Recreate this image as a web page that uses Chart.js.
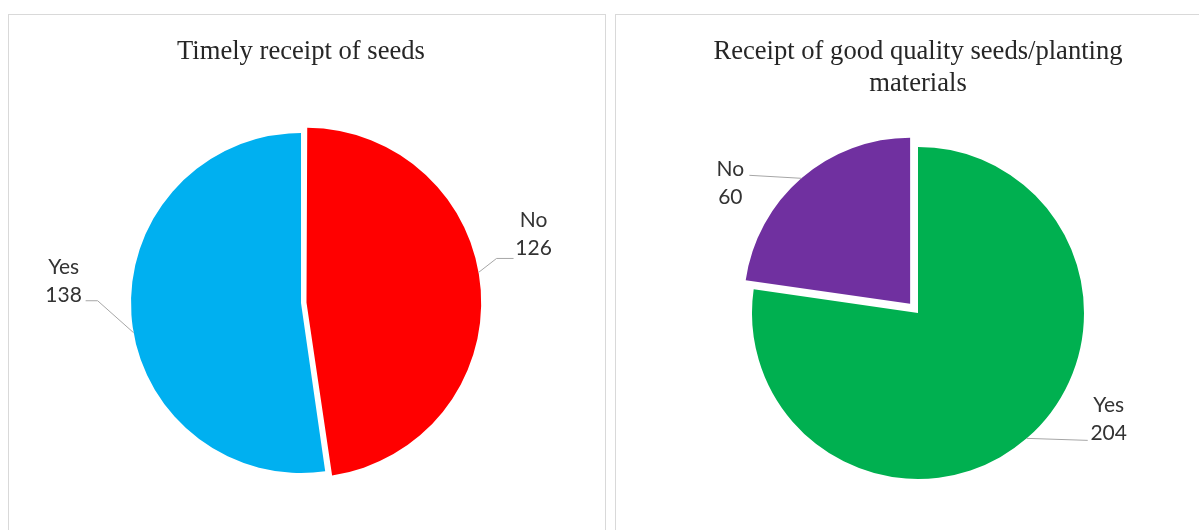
<!DOCTYPE html>
<html>
<head>
<meta charset="utf-8">
<script src="https://cdn.jsdelivr.net/npm/chart.js@4/dist/chart.umd.min.js"></script>
<style>
  html, body { margin: 0; padding: 0; background: #ffffff; }
  body { width: 1199px; height: 530px; overflow: hidden; position: relative; }
  .panel { position: absolute; border: 1px solid #d9d9d9; background: #ffffff; overflow: hidden; }
  #panelTiming { left: 8px; top: 14px; width: 596px; height: 560px; }
  #panelQuality { left: 615px; top: 14px; width: 600px; height: 560px; }
  canvas { position: absolute; left: 0; top: 0; }
</style>
</head>
<body>
<div class="panel" id="panelTiming"><canvas id="timingChart" width="596" height="523"></canvas></div>
<div class="panel" id="panelQuality"><canvas id="qualityChart" width="584" height="511"></canvas></div>
<script>
// Survey responses: timely receipt of seeds
const timingTitle = 'Timely receipt of seeds';
const timingLabels = ['No', 'Yes'];
const timingCounts = [126, 138];
const timingColors = ['#FF0000', '#00B0F0'];

// Survey responses: good quality seeds / planting materials
const qualityTitle = ['Receipt of good quality seeds/planting', 'materials'];
const qualityLabels = ['Yes', 'No'];
const qualityCounts = [204, 60];
const qualityColors = ['#00B050', '#7030A0'];

// Draws "category / value" labels outside each slice with a grey leader line.
const sliceLabels = {
  id: 'sliceLabels',
  afterDatasetsDraw(chart, args, opts) {
    const ctx = chart.ctx;
    const meta = chart.getDatasetMeta(0);
    const ds = chart.data.datasets[0];
    ctx.save();
    meta.data.forEach((arc, i) => {
      const p = arc.getProps(['x', 'y', 'startAngle', 'endAngle', 'outerRadius', 'circumference'], true);
      const place = opts.place[i];
      const mid = (p.startAngle + p.endAngle) / 2;
      // same shift ArcElement applies for an exploded slice
      const off = (arc.options.offset || 0) / 4;
      const fix = 1 - Math.sin(Math.min(Math.PI, p.circumference || 0));
      const shift = off * (1 + fix);
      const cx = p.x + Math.cos(mid) * shift;
      const cy = p.y + Math.sin(mid) * shift;
      const a = mid + (place.turn || 0) * Math.PI / 180;
      const ex = cx + Math.cos(a) * p.outerRadius;
      const ey = cy + Math.sin(a) * p.outerRadius;
      const lx = ex + place.dx;
      const ly = ey + place.dy;

      ctx.strokeStyle = '#a6a6a6';
      ctx.lineWidth = 1;
      ctx.beginPath();
      ctx.moveTo(ex, ey);
      if (place.knee) ctx.lineTo(lx + place.knee[0], ly + place.knee[1]);
      ctx.lineTo(lx + place.end[0], ly + place.end[1]);
      ctx.stroke();

      ctx.fillStyle = '#333333';
      ctx.font = '21px Lato, "Open Sans", sans-serif';
      ctx.textAlign = 'center';
      ctx.textBaseline = 'middle';
      const gap = opts.lineGap;
      ctx.fillText(chart.data.labels[i], lx, ly - gap / 2);
      ctx.fillText(String(ds.data[i]), lx, ly + gap / 2);
    });
    ctx.restore();
  }
};

function pieConfig(title, labels, counts, colors, explode, radius, padding, place) {
  return {
    type: 'pie',
    data: {
      labels: labels,
      datasets: [{
        data: counts,
        backgroundColor: colors,
        borderWidth: 0,
        offset: explode,
        radius: radius
      }]
    },
    options: {
      responsive: false,
      animation: false,
      events: [],
      layout: { padding: padding },
      plugins: {
        legend: { display: false },
        tooltip: { enabled: false },
        title: {
          display: true,
          text: title,
          color: '#262626',
          font: { family: '"Liberation Serif", "Times New Roman", serif', size: 26.6, weight: 'normal', lineHeight: 1.2 },
          padding: { top: 21, bottom: 0 }
        },
        sliceLabels: { place: place, lineGap: 28 }
      }
    },
    plugins: [sliceLabels]
  };
}

new Chart(document.getElementById('timingChart'), pieConfig(
  timingTitle, timingLabels, timingCounts, timingColors,
  [22, 0], 170,
  { left: 0, right: 12, top: 0, bottom: 0 },
  [
    { turn: -6, dx: 55, dy: -38, knee: [-37, 24], end: [-20, 24] },
    { turn: -6, dx: -70, dy: -52, knee: [34, 20], end: [22, 20] }
  ]
));

new Chart(document.getElementById('qualityChart'), pieConfig(
  qualityTitle, qualityLabels, qualityCounts, qualityColors,
  [0, 48], 166,
  { left: 20, right: 0, top: 0, bottom: 0 },
  [
    { turn: 0, dx: 82, dy: -19, end: [-21, 21] },
    { turn: 0, dx: -71, dy: 5, end: [19, -8] }
  ]
));
</script>
</body>
</html>
